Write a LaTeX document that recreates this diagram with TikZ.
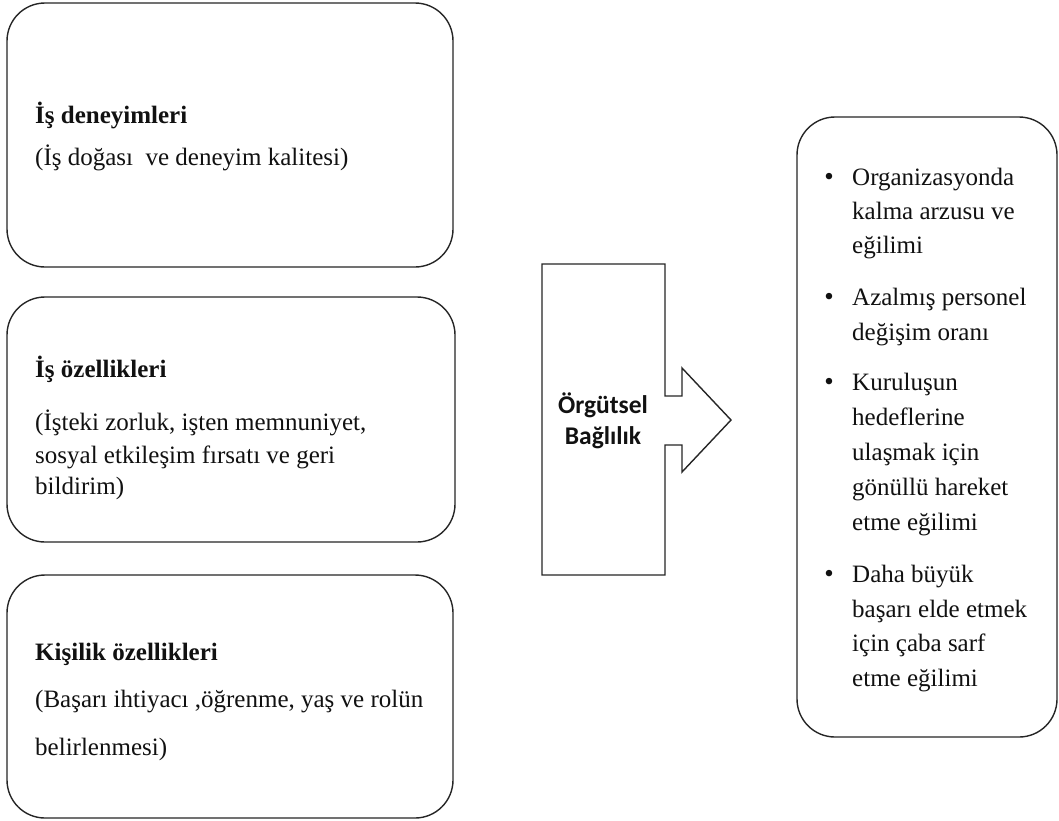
\documentclass[tikz,border=0pt]{standalone}
\usepackage{fontspec}
\setmainfont{Liberation Serif}
\newfontfamily\calib{Carlito}
\definecolor{linec}{HTML}{262626}
\definecolor{textc}{HTML}{111111}
\begin{document}
\begin{tikzpicture}[x=1pt,y=-1pt,
  rbox/.style={draw=linec, line width=1.4pt, rounded corners=38pt, outer sep=0pt, inner sep=0pt},
  txt/.style={anchor=base west, inner sep=0pt, text=textc, font=\fontsize{25}{30}\selectfont},
  ttl/.style={txt, font=\fontsize{25}{30}\selectfont\bfseries},
  blt/.style={anchor=base, inner sep=0pt, text=textc, font=\fontsize{27}{27}\selectfont},
  arrtxt/.style={anchor=base, inner sep=0pt, text=textc, font=\calib\fontsize{25.5}{28}\selectfont\bfseries}]
\useasboundingbox (0,0) rectangle (1059,820);
\fill[white] (0,0) rectangle (1059,820);
% left boxes
\node[rbox, minimum width=446pt, minimum height=264pt] (b1) at (230,135) {};
\node[rbox, minimum width=448pt, minimum height=245pt] (b2) at (231,419.5) {};
\node[rbox, minimum width=446pt, minimum height=243pt] (b3) at (230,696.5) {};
% texts box 1
\node[ttl] (t1a) at (35,123) {İş deneyimleri};
\node[txt] (t1b) at (35,165) {(İş doğası\ \ ve deneyim kalitesi)};
% texts box 2
\node[ttl] (t2a) at (35,377) {İş özellikleri};
\node[txt] (t2b) at (35,430) {(İşteki zorluk, işten memnuniyet,};
\node[txt] (t2c) at (35,463) {sosyal etkileşim fırsatı ve geri};
\node[txt] (t2d) at (35,494) {bildirim)};
% texts box 3
\node[ttl] (t3a) at (35,660) {Kişilik özellikleri};
\node[txt] (t3b) at (35,707) {(Başarı ihtiyacı ,öğrenme, yaş ve rolün};
\node[txt] (t3c) at (35,755) {belirlenmesi)};
% block arrow
\draw[linec, line width=1.4pt, line join=miter]
  (542,264) -- (665,264) -- (665,396) -- (682,396) -- (682,368) -- (731,420)
  -- (682,472) -- (682,445) -- (665,445) -- (665,575) -- (542,575) -- cycle;
\node[arrtxt] (a1) at (603,413) {Örgütsel};
\node[arrtxt] (a2) at (603,444) {Bağlılık};
% right box
\node[rbox, minimum width=260pt, minimum height=620pt] (rb) at (927,427) {};
\node[blt] (u1) at (829,185) {•};
\node[blt] (u2) at (829,305) {•};
\node[blt] (u3) at (829,390) {•};
\node[blt] (u4) at (829,582) {•};
\node[txt] (r1) at (852,185) {Organizasyonda};
\node[txt] (r2) at (852,219) {kalma arzusu ve};
\node[txt] (r3) at (852,253) {eğilimi};
\node[txt] (r4) at (852,305) {Azalmış personel};
\node[txt] (r5) at (852,340) {değişim oranı};
\node[txt] (r6) at (852,390) {Kuruluşun};
\node[txt] (r7) at (852,425) {hedeflerine};
\node[txt] (r8) at (852,460) {ulaşmak için};
\node[txt] (r9) at (852,495) {gönüllü hareket};
\node[txt] (r10) at (852,530) {etme eğilimi};
\node[txt] (r11) at (852,582) {Daha büyük};
\node[txt] (r12) at (852,617) {başarı elde etmek};
\node[txt] (r13) at (852,651) {için çaba sarf};
\node[txt] (r14) at (852,686) {etme eğilimi};
\end{tikzpicture}
\end{document}
